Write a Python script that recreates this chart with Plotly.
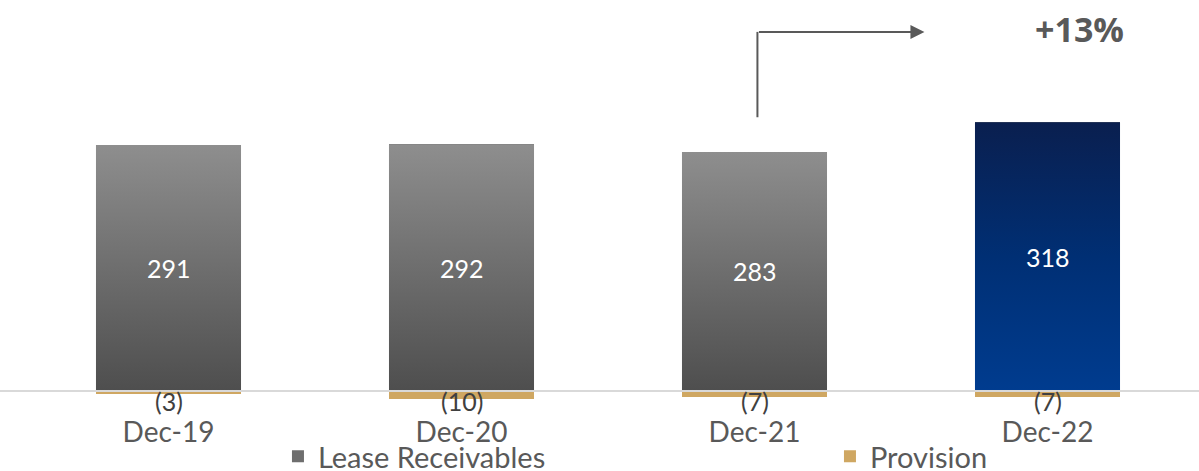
import plotly.graph_objects as go

# Lease receivables and provisions (EUR m), year-end
periods = ["Dec-19", "Dec-20", "Dec-21", "Dec-22"]
lease_receivables = [291, 292, 283, 318]
provision = [-3, -10, -7, -7]

GREY_TXT = "#595959"
GOLD = "#CFA762"
FONT = "Lato"

x = list(range(len(periods)))
bar_w = 0.495

fig = go.Figure()

# base bars (legend entries + solid fill underneath gradients)
fig.add_trace(go.Bar(
    x=x, y=lease_receivables, width=bar_w, name="Lease Receivables",
    marker=dict(color="#6e6e6e", line=dict(width=0)), hoverinfo="skip",
))
fig.add_trace(go.Bar(
    x=x, y=provision, width=bar_w, name="Provision",
    marker=dict(color=GOLD, line=dict(width=0)), hoverinfo="skip",
))

# gradient fill over each lease bar
for i, v in zip(x, lease_receivables):
    last = i == len(x) - 1
    scale = ([[0, "#003c8f"], [0.5, "#002f74"], [1, "#0a1f4f"]] if last
             else [[0, "#4e4e4e"], [1, "#8e8e8e"]])
    fig.add_trace(go.Scatter(
        x=[i - bar_w / 2, i + bar_w / 2, i + bar_w / 2, i - bar_w / 2, i - bar_w / 2],
        y=[0, 0, v, v, 0],
        mode="lines", fill="toself", line=dict(width=0),
        fillgradient=dict(type="vertical", colorscale=scale, start=0, stop=v),
        showlegend=False, hoverinfo="skip",
    ))

annotations = []
for i, v in zip(x, lease_receivables):
    annotations.append(dict(
        x=i, y=v / 2, text=str(v), showarrow=False,
        font=dict(family=FONT, size=25, color="white"),
    ))
for i, p in zip(x, provision):
    annotations.append(dict(
        x=i, y=0, text=f"({abs(p)})", showarrow=False, yanchor="middle", yshift=-10,
        font=dict(family=FONT, size=25, color="#404040"),
    ))

# growth of net receivables, last period vs previous
net = [a + b for a, b in zip(lease_receivables, provision)]
growth = round((net[-1] / net[-2] - 1) * 100)

annotations.append(dict(
    x=2.58, y=425, ax=2.01, ay=425, xref="x", yref="y", axref="x", ayref="y",
    text="", showarrow=True, arrowhead=2, arrowsize=1.4, arrowwidth=2,
    arrowcolor=GREY_TXT, standoff=0,
))
annotations.append(dict(
    x=3.11, y=428, text=f"<b>+{growth}%</b>", showarrow=False,
    font=dict(family="Open Sans", size=34, color=GREY_TXT),
))

shapes = [
    dict(type="line", xref="x", yref="y", x0=2.01, x1=2.01, y0=324, y1=425,
         line=dict(color=GREY_TXT, width=2)),
    dict(type="line", xref="paper", yref="y", x0=-22 / 1172, x1=1 + 6 / 1172,
         y0=0, y1=0, line=dict(color="#d9d9d9", width=2), layer="above"),
]

fig.update_layout(
    width=1199, height=471,
    margin=dict(l=22, r=5, t=20, b=60, autoexpand=False),
    paper_bgcolor="white", plot_bgcolor="white",
    barmode="relative", bargap=0,
    showlegend=True,
    legend=dict(
        orientation="h", x=0.2184, xanchor="left", y=-0.116, yanchor="middle",
        bgcolor="rgba(0,0,0,0)", borderwidth=0,
        font=dict(family=FONT, size=29, color=GREY_TXT),
        entrywidth=507, itemsizing="constant",
    ),
    xaxis=dict(
        range=[-0.5, 3.5], tickmode="array", tickvals=x, ticktext=periods,
        showgrid=False, zeroline=False, showline=False, ticks="",
        automargin=False, ticklabelstandoff=2,
        tickfont=dict(family=FONT, size=28, color=GREY_TXT),
    ),
    yaxis=dict(range=[-23.7, 439.1], visible=False, automargin=False),
    annotations=annotations, shapes=shapes,
)

fig.write_html("out.html")
